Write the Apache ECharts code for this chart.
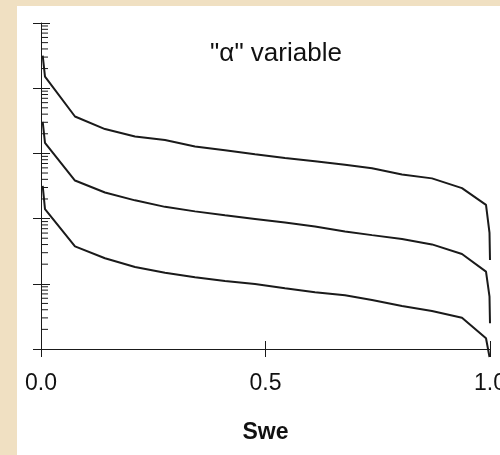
<!DOCTYPE html>
<html>
<head>
<meta charset="utf-8">
<script src="https://cdn.jsdelivr.net/npm/echarts@6/dist/echarts.min.js"></script>
<style>
  html, body { margin: 0; padding: 0; background: #f0e0c2; }
  #chart { width: 500px; height: 455px; }
</style>
</head>
<body>
<div id="chart"></div>
<script>
// Water saturation (x) shared by the three curves
const swe = [0.0038, 0.0089, 0.0757, 0.1425, 0.2094, 0.2762, 0.343, 0.4098, 0.4766,
             0.5434, 0.6102, 0.6771, 0.7372, 0.804, 0.8708, 0.9376, 0.9911, 0.9989, 1.0];

// Three curves, one decade apart on the log scale
const curveTop = [31500, 15000, 3680, 2360, 1816, 1600, 1276, 1115, 968,
                  847, 756, 668, 590, 474, 414, 293, 162.5, 60.4, 23.2];
const curveMid = [3054, 1453, 383.5, 250.9, 190.5, 151.4, 129.1, 112.8, 99.0,
                  86.9, 75.9, 63.6, 55.8, 48.8, 40.2, 28.7, 15.4, 6.35, 2.48];
const curveLow = [318, 139.5, 37.5, 24.7, 18.15, 14.8, 12.6, 11.06, 9.95,
                  8.55, 7.42, 6.67, 5.65, 4.57, 3.83, 3.02, 1.46, 0.754];

// Axis ranges and tick labels
const xTickValues = [0, 0.5, 1.0];
const yDecades = [1, 10, 100, 1000, 10000, 100000];
const minorMultipliers = [2, 3, 4, 5, 6, 7, 8, 9];

const minorTicks = [];
for (let d = 0; d < yDecades.length - 1; d++) {
  for (const m of minorMultipliers) minorTicks.push([0, m * yDecades[d]]);
}

const pairs = (ys) => ys.map((y, i) => [swe[i], y]);
const ink = '#1a1a1a';

const chart = echarts.init(document.getElementById('chart'));

const xBase = {
  type: 'value',
  min: xTickValues[0],
  max: xTickValues[xTickValues.length - 1],
  interval: 0.5,
  position: 'bottom',
  splitLine: { show: false },
  axisLine: { onZero: false, lineStyle: { color: ink, width: 1 } }
};
const yBase = {
  type: 'log',
  logBase: 10,
  min: yDecades[0],
  max: yDecades[yDecades.length - 1],
  position: 'left',
  splitLine: { show: false },
  axisLabel: { show: false },
  axisLine: { lineStyle: { color: ink, width: 1 } }
};

chart.setOption({
  backgroundColor: '#f0e0c2',
  animation: false,
  graphic: [
    {
      type: 'rect', z: -100, silent: true,
      shape: { x: 17, y: 6, width: 483, height: 449 },
      style: { fill: '#ffffff' }
    },
    {
      type: 'text', silent: true,
      x: 276, y: 54,
      style: {
        text: '"\u03b1" variable',
        font: '26px "Liberation Sans", Arial, sans-serif',
        fill: '#111',
        textAlign: 'center',
        textVerticalAlign: 'middle'
      }
    }
  ],
  grid: {
    left: 41, right: 10, top: 23, bottom: 106,
    containLabel: false, outerBoundsMode: 'none'
  },
  xAxis: [
    Object.assign({}, xBase, {
      axisTick: { show: true, inside: false, length: 8, lineStyle: { color: ink } },
      axisLabel: {
        show: true, margin: 23, color: '#111',
        fontFamily: '"Liberation Sans", Arial, sans-serif', fontSize: 23,
        formatter: (v) => v.toFixed(1)
      },
      name: 'Swe',
      nameLocation: 'middle',
      nameGap: 72,
      nameTextStyle: {
        color: '#111', fontWeight: 'bold', fontSize: 23,
        fontFamily: '"Liberation Sans", Arial, sans-serif'
      }
    }),
    Object.assign({}, xBase, {
      axisLine: { show: false, onZero: false },
      axisTick: { show: true, inside: true, length: 8, lineStyle: { color: ink } },
      axisLabel: { show: false }
    })
  ],
  yAxis: [
    Object.assign({}, yBase, {
      axisTick: { show: true, inside: false, length: 8, lineStyle: { color: ink } }
    }),
    Object.assign({}, yBase, {
      axisLine: { show: false },
      axisTick: { show: true, inside: true, length: 9, lineStyle: { color: ink } }
    })
  ],
  series: [
    {
      // minor log ticks (2..9 within each decade), placed via the y scale
      type: 'custom',
      xAxisIndex: 0, yAxisIndex: 0,
      clip: false, silent: true,
      data: minorTicks,
      renderItem: (params, api) => {
        const p = api.coord([api.value(0), api.value(1)]);
        return {
          type: 'line',
          shape: { x1: p[0], y1: p[1], x2: p[0] + 7, y2: p[1] },
          style: { stroke: ink, lineWidth: 1 }
        };
      }
    },
    { type: 'line', data: pairs(curveTop), symbol: 'none', clip: false,
      lineStyle: { color: ink, width: 2 } },
    { type: 'line', data: pairs(curveMid), symbol: 'none', clip: false,
      lineStyle: { color: ink, width: 2 } },
    { type: 'line', data: pairs(curveLow), symbol: 'none', clip: false,
      lineStyle: { color: ink, width: 2 } }
  ]
});
</script>
</body>
</html>
